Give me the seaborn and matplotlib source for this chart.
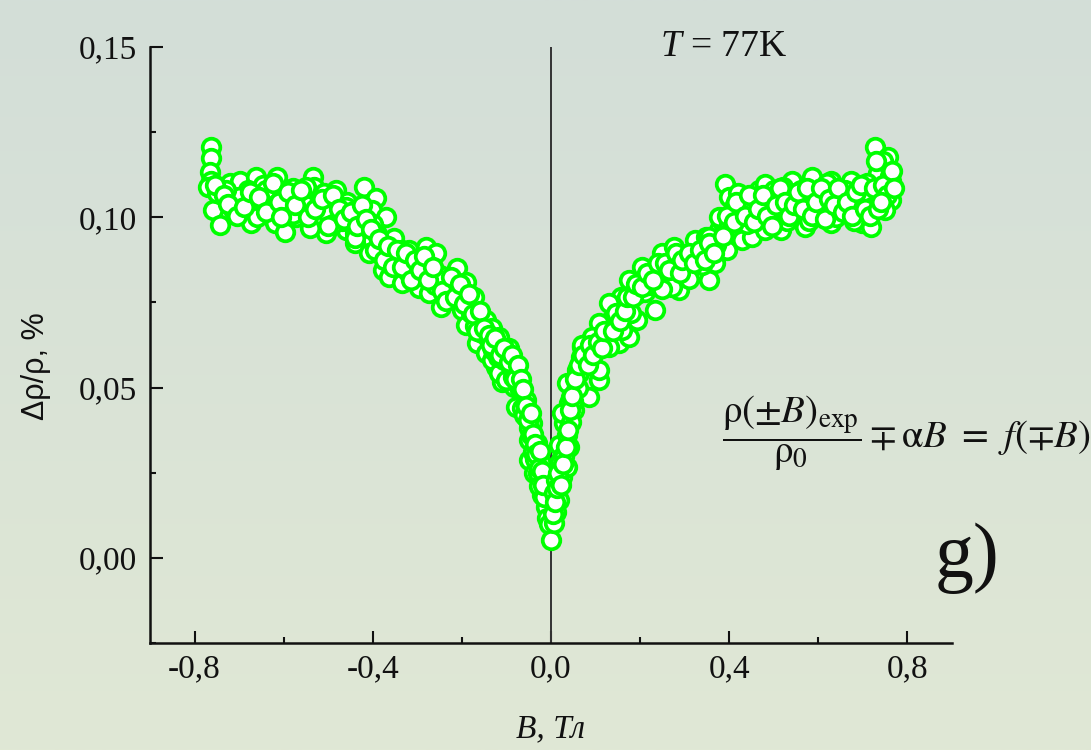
import numpy as np
import pandas as pd
import matplotlib
matplotlib.use("Agg")
import matplotlib.pyplot as plt
from matplotlib.ticker import MultipleLocator, FuncFormatter
import seaborn as sns

# ---------------- data ----------------
B_left = [
    -0.762, -0.762, -0.766, -0.762, -0.770, -0.744, -0.759, -0.744, -0.714, -0.721,
    -0.699, -0.673, -0.681, -0.661, -0.647, -0.632, -0.614, -0.620, -0.598, -0.594,
    -0.580, -0.564, -0.572, -0.535, -0.531, -0.549, -0.527, -0.505, -0.482, -0.482,
    -0.457, -0.445, -0.460, -0.419, -0.393, -0.401, -0.370, -0.423, -0.408, -0.352,
    -0.334, -0.363, -0.378, -0.348,
    -0.441, -0.441, -0.408, -0.363, -0.334, -0.322, -0.318, -0.281, -0.258, -0.296,
    -0.273, -0.247, -0.236, -0.211, -0.191, -0.172, -0.199, -0.191, -0.166, -0.146,
    -0.132, -0.166, -0.146, -0.116, -0.094, -0.124, -0.101, -0.076, -0.110, -0.083,
    -0.065,
    -0.116, -0.094, -0.132, -0.116, -0.079, -0.101, -0.072, -0.057, -0.079, -0.043,
    -0.057, -0.031, -0.049, -0.049, -0.023, -0.023, -0.038, -0.020, -0.012, -0.009,
    -0.52, -0.50, -0.47, -0.43, -0.39, -0.46, -0.51, -0.55, -0.60, -0.62,
    -0.65, -0.68, -0.70, -0.66, -0.58, -0.54, -0.49, -0.44, -0.73, -0.75,
    -0.64, -0.57, -0.40, -0.38, -0.36, -0.34, -0.32, -0.30, -0.29, -0.27,
    -0.26, -0.25, -0.23, -0.22, -0.20, -0.18, -0.17, -0.155, -0.14, -0.13,
    -0.12, -0.105, -0.09, -0.085, -0.07, -0.065, -0.06, -0.05, -0.045, -0.04,
    -0.035, -0.03, -0.027, -0.015, -0.016, -0.005,
]
R_left = [
    0.1206, 0.1175, 0.1133, 0.1108, 0.1089, 0.1045, 0.1020, 0.0977, 0.1023, 0.1100,
    0.1108, 0.0983, 0.1045, 0.1118, 0.1094, 0.1030, 0.1118, 0.0982, 0.0957, 0.1030,
    0.1085, 0.1050, 0.1000, 0.1118, 0.1089, 0.1035, 0.0990, 0.0953, 0.1079, 0.1020,
    0.1045, 0.0990, 0.0962, 0.1089, 0.1056, 0.1020, 0.1000, 0.0962, 0.0924, 0.0938,
    0.0903, 0.0884, 0.0845, 0.0836,
    0.0953, 0.0924, 0.0894, 0.0825, 0.0806, 0.0840, 0.0903, 0.0913, 0.0894, 0.0792,
    0.0777, 0.0737, 0.0815, 0.0850, 0.0810, 0.0766, 0.0727, 0.0683, 0.0708, 0.0698,
    0.0674, 0.0630, 0.0601, 0.0630, 0.0610, 0.0561, 0.0551, 0.0543, 0.0517, 0.0502,
    0.0478,
    0.0649, 0.0616, 0.0580, 0.0543, 0.0546, 0.0522, 0.0502, 0.0463, 0.0444, 0.0396,
    0.0414, 0.0337, 0.0346, 0.0287, 0.0278, 0.0235, 0.0249, 0.0185, 0.0150, 0.0117,
    0.104, 0.101, 0.099, 0.100, 0.095, 0.103, 0.107, 0.109, 0.105, 0.107,
    0.104, 0.108, 0.106, 0.100, 0.101, 0.097, 0.098, 0.094, 0.108, 0.107,
    0.108, 0.107, 0.098, 0.091, 0.086, 0.088, 0.087, 0.083, 0.087, 0.084,
    0.080, 0.083, 0.077, 0.080, 0.077, 0.072, 0.068, 0.066, 0.064, 0.061,
    0.059, 0.058, 0.056, 0.053, 0.050, 0.044, 0.042, 0.038, 0.036, 0.031,
    0.029, 0.025, 0.021, 0.022, 0.018, 0.010,
]
B_left_more = [
    -0.755, -0.735, -0.725, -0.705, -0.69, -0.675, -0.655, -0.64, -0.625, -0.61,
    -0.605, -0.59, -0.575, -0.56, -0.545, -0.53, -0.515, -0.50, -0.49, -0.475,
    -0.465, -0.45, -0.435, -0.425, -0.415, -0.405, -0.395, -0.385, -0.375, -0.365,
    -0.355, -0.345, -0.335, -0.325, -0.315, -0.305, -0.295, -0.285, -0.275, -0.265,
    -0.245, -0.235, -0.225, -0.215, -0.205, -0.195, -0.185, -0.175, -0.165, -0.16,
    -0.15, -0.14, -0.135, -0.125, -0.115, -0.105, -0.095, -0.088, -0.08, -0.075,
    -0.068, -0.062, -0.055, -0.052, -0.045, -0.04, -0.036, -0.033, -0.028, -0.024,
    -0.02, -0.018,
]
R_left_more = [
    0.1095, 0.1065, 0.1040, 0.1005, 0.1030, 0.1075, 0.1060, 0.1015, 0.1100, 0.1045,
    0.1000, 0.1075, 0.1035, 0.1080, 0.1000, 0.1025, 0.1055, 0.0975, 0.1065, 0.1025,
    0.0995, 0.1015, 0.0975, 0.1035, 0.0995, 0.0965, 0.0905, 0.0935, 0.0875, 0.0915,
    0.0855, 0.0905, 0.0855, 0.0895, 0.0815, 0.0875, 0.0845, 0.0885, 0.0815, 0.0855,
    0.0785, 0.0755, 0.0825, 0.0765, 0.0805, 0.0745, 0.0775, 0.0715, 0.0665, 0.0725,
    0.0675, 0.0655, 0.0625, 0.0645, 0.0595, 0.0615, 0.0575, 0.0595, 0.0525, 0.0565,
    0.0525, 0.0495, 0.0445, 0.0405, 0.0425, 0.0365, 0.0335, 0.0305, 0.0265, 0.0315,
    0.0255, 0.0215,
]
B_right = [
    0.000, 0.011, 0.025, 0.007, 0.018, 0.011, 0.007, 0.036, 0.018, 0.029, 0.040,
    0.036, 0.055, 0.058, 0.078, 0.069, 0.100, 0.092, 0.123, 0.152, 0.108,
    0.085, 0.052, 0.025, 0.025, 0.040,
    0.044, 0.063, 0.085, 0.067, 0.108, 0.114, 0.134, 0.152, 0.175, 0.156,
    0.175, 0.197, 0.204, 0.193, 0.234, 0.226, 0.249, 0.275, 0.287, 0.302,
    0.324, 0.324, 0.347, 0.354, 0.369, 0.376, 0.394, 0.428, 0.383, 0.257,
    0.271, 0.130, 0.145, 0.108, 0.092, 0.069,
    0.391, 0.399, 0.376, 0.354, 0.347, 0.428, 0.458, 0.466, 0.450, 0.481,
    0.481, 0.511, 0.517, 0.540, 0.548, 0.571, 0.585, 0.607, 0.629, 0.629,
    0.652, 0.674, 0.697, 0.690, 0.719, 0.727, 0.757, 0.764, 0.764, 0.750,
    0.735, 0.712, 0.555, 0.526, 0.578,
    0.13, 0.16, 0.18, 0.21, 0.22, 0.24, 0.25, 0.28, 0.30, 0.31,
    0.33, 0.34, 0.36, 0.37, 0.40, 0.41, 0.44, 0.47, 0.49, 0.50,
    0.53, 0.56, 0.60, 0.62, 0.64, 0.66, 0.68, 0.70, 0.72, 0.74,
    0.76, 0.745, 0.42, 0.45, 0.52, 0.58, 0.62, 0.67, 0.71, 0.06,
    0.07, 0.05, 0.045, 0.035, 0.02, 0.015, 0.03, 0.005,
]
R_right = [
    0.0053, 0.0229, 0.0238, 0.0190, 0.0170, 0.0136, 0.0103, 0.0268, 0.0331, 0.0396, 0.0455,
    0.0513, 0.0493, 0.0551, 0.0580, 0.0620, 0.0610, 0.0645, 0.0649, 0.0640, 0.0522,
    0.0473, 0.0434, 0.0425, 0.0297, 0.0326,
    0.0473, 0.0543, 0.0610, 0.0590, 0.0551, 0.0669, 0.0698, 0.0630, 0.0649, 0.0766,
    0.0815, 0.0777, 0.0854, 0.0698, 0.0727, 0.0836, 0.0894, 0.0913, 0.0786, 0.0854,
    0.0836, 0.0933, 0.0943, 0.0815, 0.0865, 0.0962, 0.0903, 0.0933, 0.0990, 0.0825,
    0.0796, 0.0748, 0.0718, 0.0689, 0.0649, 0.0625,
    0.1099, 0.1060, 0.1000, 0.0943, 0.0903, 0.1020, 0.1050, 0.1079, 0.0943, 0.0962,
    0.1099, 0.1060, 0.0962, 0.1108, 0.1060, 0.0972, 0.1118, 0.1012, 0.1108, 0.0982,
    0.1060, 0.1108, 0.0982, 0.1030, 0.0972, 0.1206, 0.1177, 0.1108, 0.1050, 0.1020,
    0.1129, 0.1079, 0.1012, 0.1020, 0.1040,
    0.062, 0.067, 0.072, 0.078, 0.080, 0.083, 0.079, 0.087, 0.089, 0.082,
    0.088, 0.086, 0.090, 0.092, 0.098, 0.103, 0.098, 0.100, 0.104, 0.108,
    0.099, 0.108, 0.106, 0.103, 0.100, 0.108, 0.099, 0.106, 0.103, 0.107,
    0.112, 0.1165, 0.107, 0.104, 0.109, 0.099, 0.110, 0.104, 0.110, 0.050,
    0.057, 0.046, 0.040, 0.036, 0.028, 0.025, 0.030, 0.013,
]
B_right_more = [
    0.01, 0.013, 0.022, 0.027, 0.033, 0.038, 0.043, 0.048, 0.053, 0.062,
    0.072, 0.082, 0.088, 0.095, 0.105, 0.115, 0.12, 0.14, 0.155, 0.165,
    0.17, 0.185, 0.19, 0.205, 0.215, 0.23, 0.24, 0.255, 0.265, 0.28,
    0.29, 0.295, 0.31, 0.32, 0.335, 0.345, 0.355, 0.365, 0.385, 0.395,
    0.41, 0.415, 0.435, 0.445, 0.455, 0.465, 0.475, 0.485, 0.495, 0.505,
    0.515, 0.525, 0.535, 0.545, 0.555, 0.565, 0.575, 0.585, 0.595, 0.605,
    0.615, 0.625, 0.635, 0.645, 0.655, 0.665, 0.675, 0.685, 0.695, 0.705,
    0.715, 0.725, 0.735, 0.745, 0.755, 0.765, 0.77, 0.74, 0.73,
]
R_right_more = [
    0.0165, 0.0205, 0.0215, 0.0275, 0.0325, 0.0375, 0.0435, 0.0475, 0.0525, 0.0565,
    0.0595, 0.0565, 0.0625, 0.0595, 0.0635, 0.0615, 0.0665, 0.0665, 0.0695, 0.0725,
    0.0765, 0.0765, 0.0805, 0.0795, 0.0835, 0.0815, 0.0865, 0.0865, 0.0845, 0.0895,
    0.0835, 0.0875, 0.0895, 0.0865, 0.0905, 0.0875, 0.0925, 0.0895, 0.0945, 0.1005,
    0.0985, 0.1045, 0.1005, 0.1065, 0.0985, 0.1025, 0.1065, 0.1005, 0.0975, 0.1035,
    0.1085, 0.1045, 0.1005, 0.1035, 0.1075, 0.1025, 0.1085, 0.1005, 0.1045, 0.1085,
    0.0995, 0.1055, 0.1035, 0.1085, 0.1015, 0.1045, 0.1005, 0.1075, 0.1095, 0.1025,
    0.1005, 0.1085, 0.1025, 0.1095, 0.1065, 0.1135, 0.1085, 0.1045, 0.1165,
]

x_ticks = [-0.8, -0.4, 0.0, 0.4, 0.8]
y_ticks = [0.00, 0.05, 0.10, 0.15]
x_label = "B, Тл"
y_label = "Δρ/ρ, %"
temp_label = "$T$ = 77K"
formula = r"$\dfrac{\mathrm{\rho}(\pm B)_{\mathrm{exp}}}{\mathrm{\rho}_0} \mp \mathrm{\alpha}B\ =\ f(\mp B)$"
panel_label = "g)"

df = pd.DataFrame({
    "B": B_left + B_left_more + B_right + B_right_more,
    "R": R_left + R_left_more + R_right + R_right_more,
})

# ---------------- style ----------------
sns.set_theme(style="ticks")
plt.rcParams["font.family"] = ["Liberation Serif", "DejaVu Serif"]
plt.rcParams["mathtext.fontset"] = "custom"
plt.rcParams["mathtext.rm"] = "Liberation Serif"
plt.rcParams["mathtext.it"] = "Liberation Serif:italic"

W, H = 1091, 750
fig = plt.figure(figsize=(W / 100, H / 100), dpi=100)

# background gradient
bg = fig.add_axes([0, 0, 1, 1], zorder=-10)
top = np.array([211, 222, 216]) / 255.0
bot = np.array([224, 232, 213]) / 255.0
t = np.linspace(0, 1, 256)[:, None, None]
grad = top[None, None, :] * (1 - t) + bot[None, None, :] * t
bg.imshow(grad, aspect="auto", extent=[0, 1, 0, 1], origin="upper")
bg.set_axis_off()

ax = fig.add_axes([150 / W, (H - 643) / H, (952 - 150) / W, (643 - 47) / H], zorder=1)
ax.set_facecolor("none")

ax.axvline(0, color="#333333", lw=1.4, zorder=1)

sns.scatterplot(data=df, x="B", y="R", ax=ax, s=160, color="white",
                edgecolor="#00ff00", linewidth=2.7, zorder=3, legend=False)

ax.set_xlim(-0.9, 0.9)
ax.set_ylim(-0.025, 0.15)

for side in ["top", "right"]:
    ax.spines[side].set_visible(False)
for side in ["left", "bottom"]:
    ax.spines[side].set_linewidth(1.8)
    ax.spines[side].set_color("#111111")

ax.set_xticks(x_ticks)
ax.set_yticks(y_ticks)
ax.xaxis.set_minor_locator(MultipleLocator(0.2))
ax.yaxis.set_minor_locator(MultipleLocator(0.025))
ax.xaxis.set_major_formatter(FuncFormatter(lambda v, p: f"{v:.1f}".replace(".", ",")))
ax.yaxis.set_major_formatter(FuncFormatter(lambda v, p: f"{v:.2f}".replace(".", ",")))
ax.tick_params(which="major", direction="in", length=9, width=1.5, color="#111111",
               labelsize=24, labelcolor="#111111")
ax.tick_params(which="minor", direction="in", length=4.5, width=1.5, color="#111111")
ax.tick_params(axis="y", which="major", pad=9)
ax.tick_params(axis="x", which="major", pad=8)

ax.set_xlabel(x_label, fontsize=24, fontstyle="italic", color="#111111")
ax.xaxis.set_label_coords(0.5, -0.118)
ax.set_ylabel(y_label, fontsize=22, family=["Liberation Sans", "DejaVu Sans"], color="#111111")
ax.yaxis.set_label_coords(-0.123, 0.465)

ax.text(0.636, 1.0, temp_label, transform=ax.transAxes, fontsize=27,
        ha="left", va="center", color="#111111")

fig.text(722 / W, (H - 433) / H, formula, fontsize=28, ha="left", va="center",
         color="#111111", math_fontfamily="stix")
fig.text(935 / W, (H - 577) / H, panel_label, fontsize=56, ha="left", va="baseline",
         color="#111111")

fig.savefig("out.png", dpi=100)
